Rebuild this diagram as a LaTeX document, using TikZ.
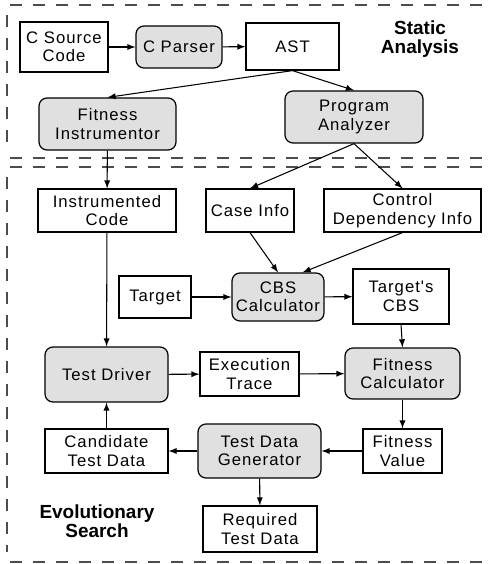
\documentclass[tikz,border=0pt]{standalone}
\usepackage{fontspec}
\setmainfont{Liberation Sans}
\newfontfamily\boxfont{Liberation Sans}[LetterSpace=6]
\usetikzlibrary{arrows,shapes}

\begin{document}
\begin{tikzpicture}[x=0.02cm,y=-0.02cm,
  box/.style={draw,line width=0.7pt,align=center,inner sep=0pt,font=\boxfont\fontsize{9.5}{10.5}\selectfont},
  proc/.style={box,fill=black!12,rounded corners=0.16cm},
  part/.style={draw=black!70,dash pattern=on 0.24cm off 0.22cm,line width=0.6pt},
  ar/.style={-latex,line width=0.6pt},
  lbl/.style={align=center,font=\bfseries\fontsize{10.8}{10.5}\selectfont}]
\useasboundingbox (0,0) rectangle (487,564);

\draw[part] (10,5) -- (483,5);
\draw[part] (7,15) -- (7,152);
\draw[part] (10,158) -- (483,158);
\draw[part] (10,167) -- (483,167);
\draw[part] (7,177) -- (7,552);
\draw[part] (10,562) -- (483,562);

\node at (420,39) [lbl] (sa) {Static\\Analysis};
\node at (97,521) [lbl] (es) {Evolutionary\\Search};

\node at (64,47) [box,minimum width=1.76cm,minimum height=1cm] (src) {C Source\\Code};
\node at (179,47) [proc,minimum width=1.72cm,minimum height=0.84cm] (parser) {C Parser};
\node at (292.5,46.5) [box,minimum width=1.86cm,minimum height=0.94cm] (ast) {AST};
\node at (107.5,124) [proc,minimum width=2.74cm,minimum height=1.04cm] (instr) {Fitness\\Instrumentor};
\node at (354,117) [proc,minimum width=2.76cm,minimum height=1.04cm] (analyzer) {Program\\Analyzer};

\node at (107,210.5) [box,minimum width=2.76cm,minimum height=0.86cm] (icode) {Instrumented\\Code};
\node at (250,210.5) [box,minimum width=1.76cm,minimum height=0.86cm] (case) {Case Info};
\node at (402.5,210.5) [box,minimum width=3.14cm,minimum height=0.86cm] (cdi) {Control\\Dependency Info};
\node at (155,297) [box,minimum width=1.44cm,minimum height=0.84cm] (target) {Target};
\node at (278,297) [proc,minimum width=1.84cm,minimum height=0.96cm] (cbs) {CBS\\Calculator};
\node at (401,296.5) [box,minimum width=1.92cm,minimum height=1.1cm] (tcbs) {Target's\\CBS};
\node at (106.5,374.5) [proc,minimum width=2.46cm,minimum height=1.1cm] (driver) {Test Driver};
\node at (249.5,374) [box,minimum width=1.98cm,minimum height=0.88cm] (trace) {Execution\\Trace};
\node at (402.5,373.5) [proc,minimum width=2.3cm,minimum height=1.02cm] (fcalc) {Fitness\\Calculator};
\node at (106.5,451) [box,minimum width=2.46cm,minimum height=0.88cm] (cand) {Candidate\\Test Data};
\node at (259.5,451) [proc,minimum width=2.46cm,minimum height=1.08cm] (tdg) {Test Data\\Generator};
\node at (402.5,451) [box,minimum width=1.58cm,minimum height=0.88cm] (fval) {Fitness\\Value};
\node at (260,529) [box,minimum width=2.28cm,minimum height=0.92cm] (req) {Required\\Test Data};

\draw[ar] (src) -- (parser);
\draw[ar] (parser) -- (ast);
\draw[ar] (ast.south) -- (instr.north);
\draw[ar] (ast.south) -- (analyzer.north);
\draw[ar] (analyzer.south) -- (case.north);
\draw[ar] (analyzer.south) -- (cdi.north);
\draw[ar] (instr) -- (icode);
\draw[ar] (case.south) -- (cbs.north);
\draw[ar] (cdi.south) -- (cbs.45);
\draw[ar] (target) -- (cbs);
\draw[ar] (cbs) -- (tcbs);
\draw[ar] (tcbs.south) -- (fcalc.north);
\draw[ar] (icode) -- (driver);
\draw[ar] (driver) -- (trace);
\draw[ar] (trace) -- (fcalc);
\draw[ar] (fcalc) -- (fval);
\draw[ar] (fval) -- (tdg);
\draw[ar] (tdg) -- (cand);
\draw[ar] (cand) -- (driver);
\draw[ar] (tdg) -- (req);
\end{tikzpicture}
\end{document}
